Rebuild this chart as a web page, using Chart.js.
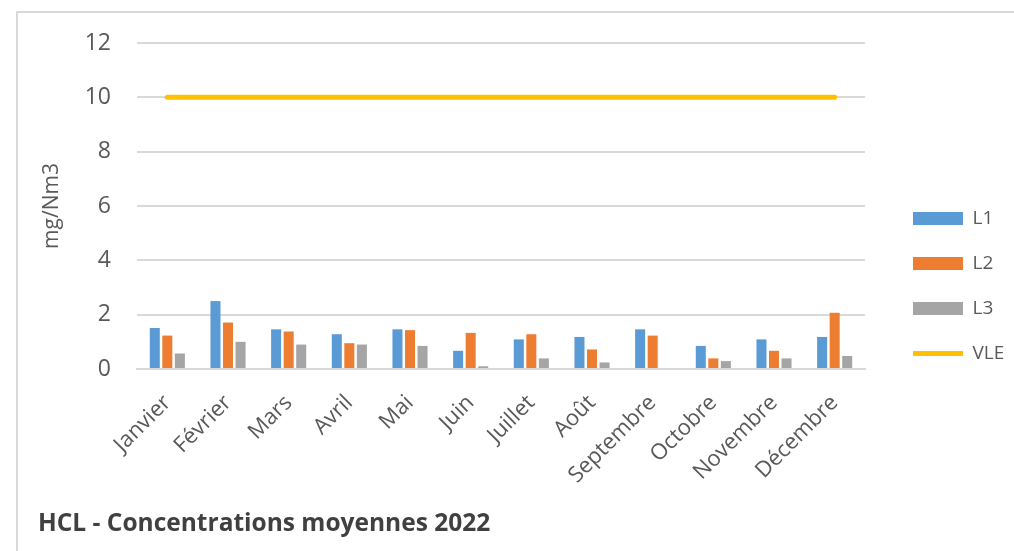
<!DOCTYPE html>
<html>
<head>
<meta charset="utf-8">
<script src="https://cdn.jsdelivr.net/npm/chart.js@4/dist/chart.umd.min.js"></script>
<style>
  html, body { margin: 0; padding: 0; background: #fff; }
  #frame { position: absolute; left: 16px; top: 11px; width: 1100px; height: 600px;
           border-left: 2px solid #d9d9d9; border-top: 2px solid #d9d9d9; }
  #wrap { position: absolute; left: 0; top: 0; width: 1014px; height: 551px; }
</style>
</head>
<body>
<div id="frame"></div>
<div id="wrap"><canvas id="chart"></canvas></div>
<script>
const months = ['Janvier', 'Février', 'Mars', 'Avril', 'Mai', 'Juin', 'Juillet',
  'Août', 'Septembre', 'Octobre', 'Novembre', 'Décembre'];
const l1 = [1.51, 2.50, 1.46, 1.28, 1.46, 0.67, 1.09, 1.18, 1.46, 0.85, 1.09, 1.18];
const l2 = [1.23, 1.71, 1.38, 0.95, 1.43, 1.33, 1.28, 0.72, 1.23, 0.39, 0.67, 2.07];
const l3 = [0.57, 1.00, 0.90, 0.90, 0.85, 0.10, 0.39, 0.24, 0, 0.29, 0.39, 0.48];
const vle = [10, 10, 10, 10, 10, 10, 10, 10, 10, 10, 10, 10];
const yTicks = [0, 2, 4, 6, 8, 10, 12];

const FONT = 'Open Sans';
const grey = '#595959';

function bar(label, data, color) {
  return {
    type: 'bar', label: label, data: data, backgroundColor: color,
    pointStyle: 'rect', categoryPercentage: 0.62, barPercentage: 0.8
  };
}

// empty axes used only as spacers
const spacer = (position, size) => ({
  type: position === 'top' ? 'category' : 'linear',
  position: position, display: true,
  grid: { display: false, drawTicks: false }, border: { display: false },
  ticks: { display: false },
  afterFit: s => { if (position === 'top') s.height = size; else s.width = size; }
});

new Chart(document.getElementById('chart'), {
  data: {
    labels: months,
    datasets: [
      bar('L1', l1, '#5B9BD5'),
      bar('L2', l2, '#ED7D31'),
      bar('L3', l3, '#A5A5A5'),
      {
        type: 'line', label: 'VLE', data: vle, borderColor: '#FFC000',
        backgroundColor: '#FFC000', borderWidth: 5, borderCapStyle: 'round',
        pointRadius: 0, pointStyle: 'line'
      }
    ]
  },
  options: {
    responsive: true,
    maintainAspectRatio: false,
    animation: false,
    layout: { padding: { left: 38, top: 33, right: 0, bottom: 12 } },
    scales: {
      x: {
        grid: { display: false, drawTicks: false },
        border: { color: '#d9d9d9', width: 2 },
        ticks: { color: grey, font: { family: FONT, size: 22 }, autoSkip: false,
                 minRotation: 45, maxRotation: 45, padding: 21 },
        afterFit: s => { s.height = 140.6; }
      },
      y: {
        min: 0, max: 12,
        afterBuildTicks: s => { s.ticks = yTicks.map(v => ({ value: v })); },
        grid: { color: '#d9d9d9', lineWidth: 2, drawTicks: false },
        border: { display: false },
        ticks: { color: grey, font: { family: FONT, size: 23 }, padding: 26 },
        title: { display: true, text: 'mg/Nm3', color: grey,
                 font: { family: FONT, size: 21 }, padding: { top: 1, bottom: 0 } },
        afterFit: s => { s.width = 99; }
      },
      gapTop: spacer('top', 10),
      gapRight: spacer('right', 22)
    },
    plugins: {
      legend: {
        position: 'right',
        maxWidth: 127,
        labels: { usePointStyle: true, pointStyleWidth: 50, boxHeight: 13,
                  padding: 26, color: grey, font: { family: FONT, size: 19 } }
      },
      title: {
        display: true, position: 'bottom', align: 'start',
        text: 'HCL - Concentrations moyennes 2022', color: '#404040',
        font: { family: FONT, size: 24.5, weight: 'bold' }, padding: 0
      },
      tooltip: { enabled: false }
    }
  }
});
</script>
</body>
</html>
